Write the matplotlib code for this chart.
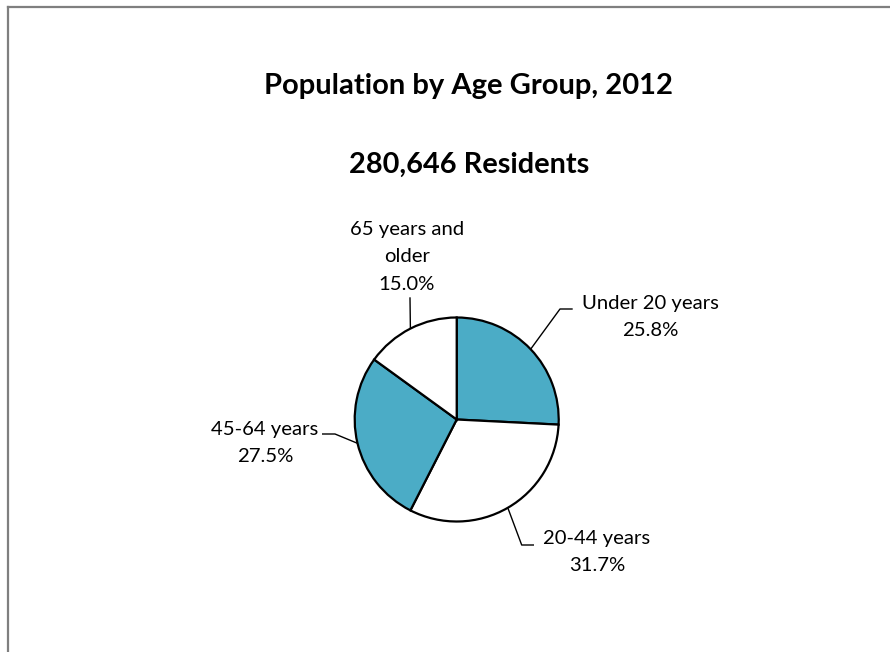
import numpy as np
import matplotlib
matplotlib.use("Agg")
import matplotlib.pyplot as plt
from matplotlib.lines import Line2D

plt.rcParams['font.family'] = ['Lato', 'DejaVu Sans']

title = "Population by Age Group, 2012"
subtitle = "280,646 Residents"
groups = ["Under 20 years", "20-44 years", "45-64 years", "65 years and\nolder"]
shares = [25.8, 31.7, 27.5, 15.0]
colors = ["#4BACC6", "#FFFFFF", "#4BACC6", "#FFFFFF"]

W, H = 890, 652
fig = plt.figure(figsize=(W / 100, H / 100), dpi=100)
ax = fig.add_axes([0, 0, 1, 1])
ax.set_xlim(0, W)
ax.set_ylim(H, 0)
ax.axis('off')

# pie geometry in pixels (y down)
cx, cy, r = 456.7, 419.5, 102

# pie drawn in its own axes so it keeps the normal orientation
pax = fig.add_axes([(cx - r) / W, 1 - (cy + r) / H, 2 * r / W, 2 * r / H])
wedges, _ = pax.pie(shares, colors=colors, startangle=90, counterclock=False,
                    wedgeprops=dict(edgecolor='black', linewidth=1.6))
pax.set_xlim(-1, 1)
pax.set_ylim(-1, 1)
pax.set_aspect('auto')
pax.axis('off')

# frame (cropped box, only top and left edge visible)
fig.add_artist(Line2D([8 / W, 8 / W], [0, 1 - 7 / H], color='#7f7f7f', lw=1.6))
fig.add_artist(Line2D([8 / W, 1], [1 - 7 / H, 1 - 7 / H], color='#7f7f7f', lw=1.6))

ax.text(469, 86, title, ha='center', va='center', fontsize=21, fontweight='bold')
ax.text(469, 165, subtitle, ha='center', va='center', fontsize=20.8, fontweight='bold')

# label centre, elbow and end of leader line (pixels)
label_pos = [(650, 317), (597, 552), (265, 443), (407, 257)]
elbows = [[(560, 309), (572, 309)],
          [(521.7, 545), (533.3, 545)],
          [(335, 434), (322.7, 434)],
          [(410, 298)]]

for w, name, val, (lx, ly), el in zip(wedges, groups, shares, label_pos, elbows):
    mid = np.deg2rad((w.theta1 + w.theta2) / 2)
    sx = cx + r * np.cos(mid)
    sy = cy - r * np.sin(mid)
    xs = [sx] + [p[0] for p in el]
    ys = [sy] + [p[1] for p in el]
    ax.plot(xs, ys, color='black', lw=1.0)
    ax.text(lx, ly, f"{name}\n{val:.1f}%", ha='center', va='center',
            multialignment='center', fontsize=14.6, linespacing=1.78)

fig.savefig("out.png", dpi=100)
